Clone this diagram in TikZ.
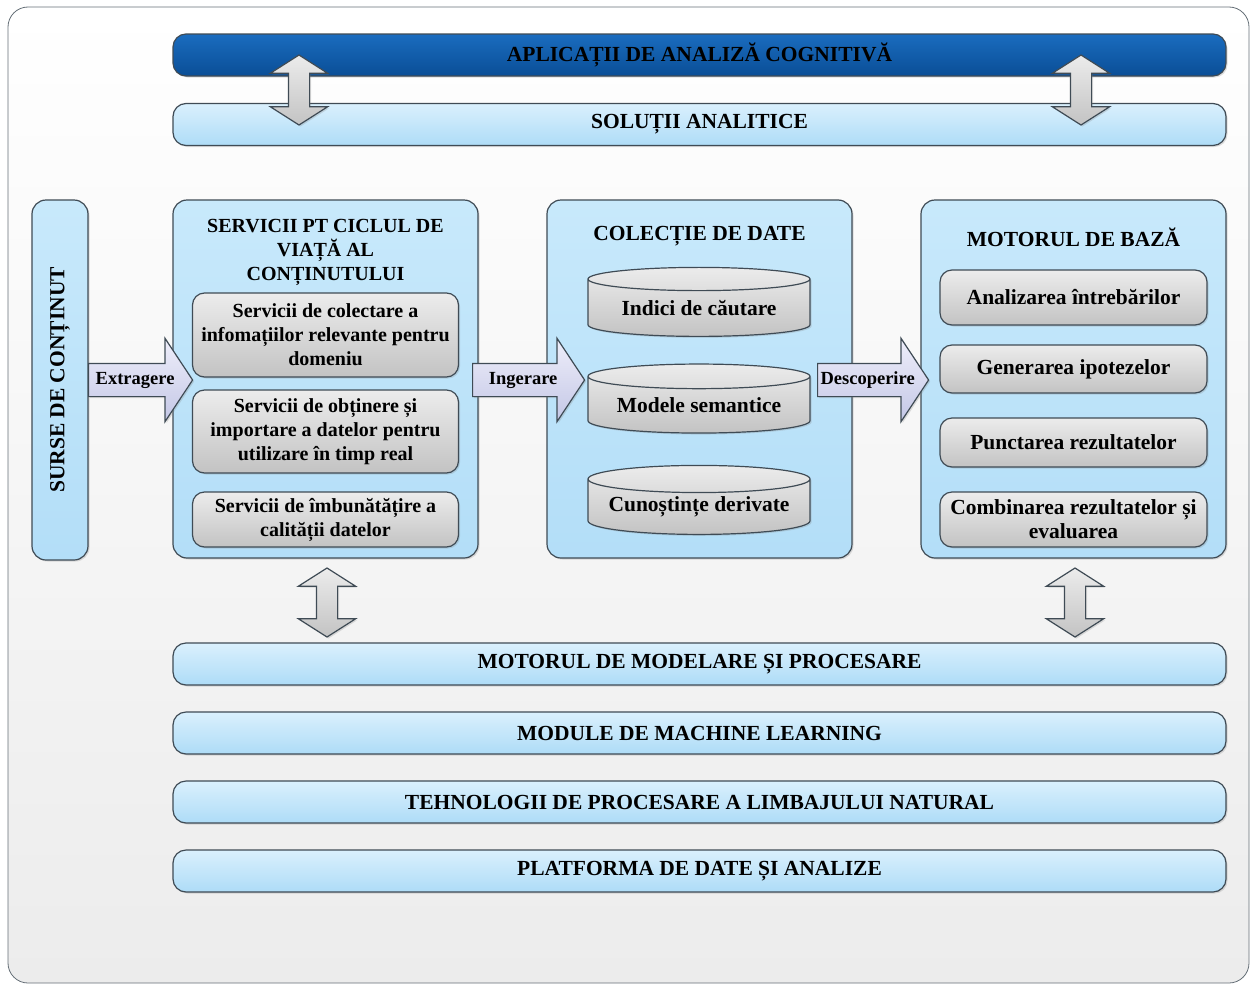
\documentclass[tikz,border=0pt]{standalone}
\usepackage{fontspec}
\setmainfont{Liberation Serif}
\usetikzlibrary{shadows}
\usetikzlibrary{shapes.geometric}
\usetikzlibrary{shapes.arrows}

\definecolor{edge}{HTML}{3F4B55}
\definecolor{frameBot}{HTML}{ECECEC}
\definecolor{barTop}{HTML}{DAF0FD}
\definecolor{barBot}{HTML}{AEDCF7}
\definecolor{boxTop}{HTML}{C8E9FB}
\definecolor{boxBot}{HTML}{B3DEF8}
\definecolor{grayTop}{HTML}{ECECEC}
\definecolor{grayBot}{HTML}{C3C3C3}
\definecolor{arrTop}{HTML}{EEEEFA}
\definecolor{arrBot}{HTML}{C4C7E6}
\definecolor{darkTop}{HTML}{1A6CBF}
\definecolor{darkBot}{HTML}{0A4E96}

\begin{document}
\begin{tikzpicture}[x=1pt, y=-1pt,
    every node/.style={font=\bfseries\fontsize{21.5}{24}\selectfont, align=center, inner sep=0pt},
    small/.style={font=\bfseries\fontsize{20}{24}\selectfont},
    softshadow/.style={drop shadow={shadow xshift=1.5pt, shadow yshift=-1.5pt, opacity=0.25}},
    bar/.style={draw=edge, line width=1.2pt, rounded corners=13pt, top color=barTop, bottom color=barBot,
        minimum width=1053pt, minimum height=42pt, softshadow},
    bigbox/.style={draw=edge, line width=1.2pt, rounded corners=14pt, top color=boxTop, bottom color=boxBot,
        minimum width=305pt, minimum height=358pt, softshadow},
    graybox/.style={draw=edge, line width=1.2pt, rounded corners=12pt, top color=grayTop, bottom color=grayBot,
        minimum width=266pt, softshadow},
    store/.style={draw=edge, line width=1.2pt, cylinder, shape border rotate=90, aspect=0.15,
        top color=grayTop, bottom color=grayBot, minimum width=222pt, minimum height=69pt, softshadow},
    flow/.style={draw=edge, line width=1.2pt, single arrow, top color=arrTop, bottom color=arrBot,
        font=\bfseries\fontsize{18.5}{24}\selectfont,
        text height=11pt, text depth=3pt, inner ysep=9pt, inner xsep=2pt,
        single arrow head extend=25pt, single arrow tip angle=113, softshadow},
    link/.style={draw=edge, line width=1.2pt, double arrow, rotate=90, top color=grayTop, bottom color=grayBot,
        minimum height=70pt, inner xsep=0pt, inner ysep=10pt, text height=0pt, text depth=0pt,
        double arrow head extend=18pt, double arrow tip angle=115, softshadow}]

    \useasboundingbox (0,0) rectangle (1252,985);

    % frame
    \draw[draw=edge!80, line width=0.8pt, rounded corners=20pt, top color=white, bottom color=frameBot]
    (8,7) rectangle (1249,983);

    % top layers
    \node[bar, top color=darkTop, bottom color=darkBot] (apps) at (699.5,55) {APLICAȚII DE ANALIZĂ COGNITIVĂ};
    \node[bar] (solutions) at (699.5,124.5) {SOLUȚII ANALITICE};

    % sources
    \node[bigbox, rotate=90, minimum width=360pt, minimum height=56pt] (sources) at (60,380) {SURSE DE CONȚINUT};

    % lifecycle services
    \node[bigbox] (services) at (325.5,379) {};
    \node[small] (servicesT) at (325.5,252) {SERVICII PT CICLUL DE\\VIAȚĂ AL\\CONȚINUTULUI};
    \node[graybox, small, minimum height=84pt] (collect) at (325.5,335) {Servicii de colectare a\\infomațiilor relevante pentru\\domeniu};
    \node[graybox, small, minimum height=83pt] (import) at (325.5,431.5) {Servicii de obținere și\\importare a datelor pentru\\utilizare în timp real};
    \node[graybox, small, minimum height=55pt] (quality) at (325.5,519.5) {Servicii de îmbunătățire a\\calității datelor};

    % data collection
    \node[bigbox] (data) at (699.5,379) {};
    \node (dataT) at (699.5,236) {COLECȚIE DE DATE};
    \node[store] (index) at (699,308) {Indici de căutare};
    \node[store] (models) at (699,405) {Modele semantice};
    \node[store] (knowledge) at (699,507) {Cunoștințe derivate};

    % core engine
    \node[bigbox] (engine) at (1073.5,379) {};
    \node (engineT) at (1073.5,237) {MOTORUL DE BAZĂ};
    \node[graybox, minimum width=267pt, minimum height=55pt] (questions) at (1073.5,297.5) {Analizarea întrebărilor};
    \node[graybox, minimum width=267pt, minimum height=48pt] (hypotheses) at (1073.5,369) {Generarea ipotezelor};
    \node[graybox, minimum width=267pt, minimum height=49pt] (scoring) at (1073.5,442.5) {Punctarea rezultatelor};
    \node[graybox, minimum width=267pt, minimum height=55pt] (merging) at (1073.5,519.5) {Combinarea rezultatelor și\\evaluarea};

    % flow arrows
    \node[flow, minimum height=104pt, anchor=tail] (extract) at (88,380) {Extragere};
    \node[flow, minimum height=112pt, anchor=tail] (ingest) at (472,380) {Ingerare};
    \node[flow, minimum height=111pt, anchor=tail] (discover) at (817,380) {Descoperire};

    % lower layers
    \node[bar] (modeling) at (699.5,664) {MOTORUL DE MODELARE ȘI PROCESARE};
    \node[bar] (learning) at (699.5,733) {MODULE DE MACHINE LEARNING};
    \node[bar] (language) at (699.5,802) {TEHNOLOGII DE PROCESARE A LIMBAJULUI NATURAL};
    \node[bar] (platform) at (699.5,871) {PLATFORMA DE DATE ȘI ANALIZE};

    % two-way links
    \node[link] (linkA) at (299,90) {};
    \node[link] (linkB) at (1081,90) {};
    \node[link, minimum height=69pt] (linkC) at (327,602.5) {};
    \node[link, minimum height=69pt] (linkD) at (1075,602.5) {};

\end{tikzpicture}
\end{document}
